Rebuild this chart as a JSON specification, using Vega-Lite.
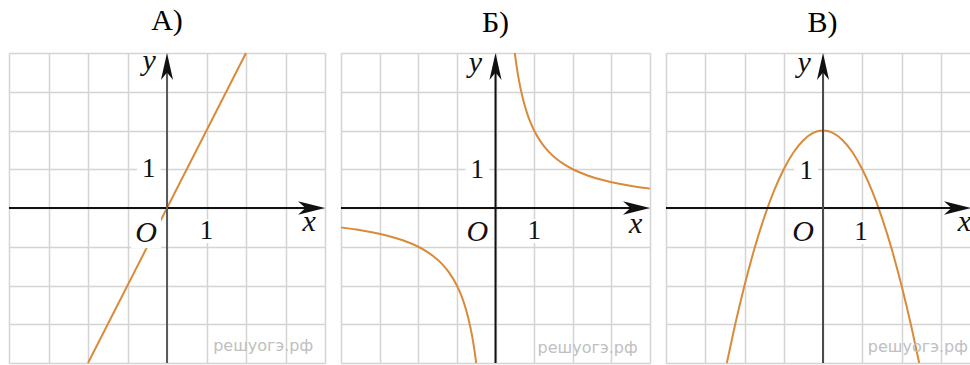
{
  "$schema": "https://vega.github.io/schema/vega-lite/v6.json",
  "background": "white",
  "padding": {"left": 8, "top": 5, "right": 0, "bottom": 0},
  "spacing": 16,
  "bounds": "flush",
  "config": {
    "view": {"stroke": null},
    "title": {"font": "Times New Roman, Liberation Serif, DejaVu Serif, serif", "fontSize": 30, "fontWeight": "normal", "color": "#000000", "offset": 10, "baseline": "alphabetic", "anchor": "middle"},
    "axis": {"grid": true, "gridColor": "#d4d4d4", "gridWidth": 1.5, "labels": false, "ticks": false, "domain": false, "title": null}
  },
  "datasets": {
    "curves": [
      {"panel": "А", "branch": 1, "x": -2, "y": -4},
      {"panel": "А", "branch": 1, "x": 2, "y": 4},
      {"panel": "Б", "branch": 1, "x": 0.5, "y": 4},
      {"panel": "Б", "branch": 1, "x": 0.55, "y": 3.636},
      {"panel": "Б", "branch": 1, "x": 0.6, "y": 3.333},
      {"panel": "Б", "branch": 1, "x": 0.7, "y": 2.857},
      {"panel": "Б", "branch": 1, "x": 0.8, "y": 2.5},
      {"panel": "Б", "branch": 1, "x": 0.9, "y": 2.222},
      {"panel": "Б", "branch": 1, "x": 1, "y": 2},
      {"panel": "Б", "branch": 1, "x": 1.2, "y": 1.667},
      {"panel": "Б", "branch": 1, "x": 1.4, "y": 1.429},
      {"panel": "Б", "branch": 1, "x": 1.6, "y": 1.25},
      {"panel": "Б", "branch": 1, "x": 1.8, "y": 1.111},
      {"panel": "Б", "branch": 1, "x": 2, "y": 1},
      {"panel": "Б", "branch": 1, "x": 2.4, "y": 0.833},
      {"panel": "Б", "branch": 1, "x": 2.8, "y": 0.714},
      {"panel": "Б", "branch": 1, "x": 3.2, "y": 0.625},
      {"panel": "Б", "branch": 1, "x": 3.6, "y": 0.556},
      {"panel": "Б", "branch": 1, "x": 4, "y": 0.5},
      {"panel": "Б", "branch": 2, "x": -4, "y": -0.5},
      {"panel": "Б", "branch": 2, "x": -3.6, "y": -0.556},
      {"panel": "Б", "branch": 2, "x": -3.2, "y": -0.625},
      {"panel": "Б", "branch": 2, "x": -2.8, "y": -0.714},
      {"panel": "Б", "branch": 2, "x": -2.4, "y": -0.833},
      {"panel": "Б", "branch": 2, "x": -2, "y": -1},
      {"panel": "Б", "branch": 2, "x": -1.8, "y": -1.111},
      {"panel": "Б", "branch": 2, "x": -1.6, "y": -1.25},
      {"panel": "Б", "branch": 2, "x": -1.4, "y": -1.429},
      {"panel": "Б", "branch": 2, "x": -1.2, "y": -1.667},
      {"panel": "Б", "branch": 2, "x": -1, "y": -2},
      {"panel": "Б", "branch": 2, "x": -0.9, "y": -2.222},
      {"panel": "Б", "branch": 2, "x": -0.8, "y": -2.5},
      {"panel": "Б", "branch": 2, "x": -0.7, "y": -2.857},
      {"panel": "Б", "branch": 2, "x": -0.6, "y": -3.333},
      {"panel": "Б", "branch": 2, "x": -0.55, "y": -3.636},
      {"panel": "Б", "branch": 2, "x": -0.5, "y": -4},
      {"panel": "В", "branch": 1, "x": -2.45, "y": -4},
      {"panel": "В", "branch": 1, "x": -2.25, "y": -3.06},
      {"panel": "В", "branch": 1, "x": -2, "y": -2},
      {"panel": "В", "branch": 1, "x": -1.75, "y": -1.06},
      {"panel": "В", "branch": 1, "x": -1.5, "y": -0.25},
      {"panel": "В", "branch": 1, "x": -1.25, "y": 0.44},
      {"panel": "В", "branch": 1, "x": -1, "y": 1},
      {"panel": "В", "branch": 1, "x": -0.75, "y": 1.44},
      {"panel": "В", "branch": 1, "x": -0.5, "y": 1.75},
      {"panel": "В", "branch": 1, "x": -0.25, "y": 1.94},
      {"panel": "В", "branch": 1, "x": 0, "y": 2},
      {"panel": "В", "branch": 1, "x": 0.25, "y": 1.94},
      {"panel": "В", "branch": 1, "x": 0.5, "y": 1.75},
      {"panel": "В", "branch": 1, "x": 0.75, "y": 1.44},
      {"panel": "В", "branch": 1, "x": 1, "y": 1},
      {"panel": "В", "branch": 1, "x": 1.25, "y": 0.44},
      {"panel": "В", "branch": 1, "x": 1.5, "y": -0.25},
      {"panel": "В", "branch": 1, "x": 1.75, "y": -1.06},
      {"panel": "В", "branch": 1, "x": 2, "y": -2},
      {"panel": "В", "branch": 1, "x": 2.25, "y": -3.06},
      {"panel": "В", "branch": 1, "x": 2.45, "y": -4}
    ],
    "axes": [
      {"panel": "А", "x": -4, "x2": 3.8, "y": 0, "y2": 0},
      {"panel": "А", "x": 0, "x2": 0, "y": -4, "y2": 3.8},
      {"panel": "Б", "x": -4, "x2": 3.8, "y": 0, "y2": 0},
      {"panel": "Б", "x": 0, "x2": 0, "y": -4, "y2": 3.8},
      {"panel": "В", "x": -4, "x2": 3.6, "y": 0, "y2": 0},
      {"panel": "В", "x": 0, "x2": 0, "y": -4, "y2": 3.8}
    ],
    "arrows": [
      {"panel": "А", "dir": "right", "x": 4, "y": 0},
      {"panel": "А", "dir": "up", "x": 0, "y": 4},
      {"panel": "Б", "dir": "right", "x": 4, "y": 0},
      {"panel": "Б", "dir": "up", "x": 0, "y": 4},
      {"panel": "В", "dir": "right", "x": 3.77, "y": 0},
      {"panel": "В", "dir": "up", "x": 0, "y": 4}
    ],
    "labels": [
      {"panel": "А", "text": "1", "x": 1.0, "y": -0.6},
      {"panel": "А", "text": "1", "x": -0.46, "y": 1.0},
      {"panel": "А", "text": "O", "x": -0.53, "y": -0.65},
      {"panel": "А", "text": "x", "x": 3.6, "y": -0.35},
      {"panel": "А", "text": "y", "x": -0.45, "y": 3.8},
      {"panel": "Б", "text": "1", "x": 1.0, "y": -0.6},
      {"panel": "Б", "text": "1", "x": -0.47, "y": 0.97},
      {"panel": "Б", "text": "O", "x": -0.47, "y": -0.62},
      {"panel": "Б", "text": "x", "x": 3.63, "y": -0.4},
      {"panel": "Б", "text": "y", "x": -0.52, "y": 3.75},
      {"panel": "В", "text": "1", "x": 0.97, "y": -0.62},
      {"panel": "В", "text": "1", "x": -0.43, "y": 0.95},
      {"panel": "В", "text": "O", "x": -0.51, "y": -0.62},
      {"panel": "В", "text": "x", "x": 3.6, "y": -0.36},
      {"panel": "В", "text": "y", "x": -0.48, "y": 3.75}
    ],
    "marks": [
      {"panel": "А", "text": "решуогэ.рф", "x": 3.7, "y": -3.55},
      {"panel": "Б", "text": "решуогэ.рф", "x": 3.68, "y": -3.6},
      {"panel": "В", "text": "решуогэ.рф", "x": 3.69, "y": -3.58}
    ]
  },
  "hconcat": [
    {
      "width": 316, "height": 310,
      "title": {"text": "А)", "dx": 0},
      "encoding": {
        "x": {"field": "x", "type": "quantitative", "scale": {"domain": [-4, 4], "nice": false, "zero": false}, "axis": {"values": [-4, -3, -2, -1, 0, 1, 2, 3, 4]}},
        "y": {"field": "y", "type": "quantitative", "scale": {"domain": [-4, 4], "nice": false, "zero": false}, "axis": {"values": [-4, -3, -2, -1, 0, 1, 2, 3, 4]}}
      },
      "layer": [
        {"data": {"name": "curves"}, "transform": [{"filter": "datum.panel === 'А'"}], "mark": {"type": "line", "color": "#d98b3a", "strokeWidth": 2, "interpolate": "monotone"}, "encoding": {"detail": {"field": "branch"}}},
        {"data": {"name": "labels"}, "transform": [{"filter": "datum.panel === 'А' && (datum.text === '1' || datum.text === 'O')"}], "mark": {"type": "point", "shape": "square", "filled": true, "color": "white", "opacity": 1, "strokeWidth": 0}, "encoding": {"size": {"condition": {"test": "datum.text === 'O'", "value": 900}, "value": 560}}},
        {"data": {"name": "axes"}, "transform": [{"filter": "datum.panel === 'А'"}], "mark": {"type": "rule", "strokeWidth": 2}, "encoding": {"x2": {"field": "x2"}, "y2": {"field": "y2"}, "color": {"condition": {"test": "datum.x === datum.x2", "value": "#5a5a5a"}, "value": "#111111"}}},
        {"data": {"name": "arrows"}, "transform": [{"filter": "datum.panel === 'А'"}], "mark": {"type": "point", "filled": true, "color": "#111111", "opacity": 1, "size": 729}, "encoding": {"shape": {"field": "dir", "type": "nominal", "scale": {"domain": ["right", "up"], "range": ["M0,0L-2,-0.5L-1.45,0L-2,0.5Z", "M0,0L-0.45,2L0,1.45L0.45,2Z"]}, "legend": null}}},
        {"data": {"name": "labels"}, "transform": [{"filter": "datum.panel === 'А' && datum.text === '1'"}], "mark": {"type": "text", "font": "Times New Roman, Liberation Serif, DejaVu Serif, serif", "fontSize": 27, "color": "#111111", "baseline": "middle", "align": "center"}, "encoding": {"text": {"field": "text"}}},
        {"data": {"name": "labels"}, "transform": [{"filter": "datum.panel === 'А' && datum.text !== '1'"}], "mark": {"type": "text", "font": "Times New Roman, Liberation Serif, DejaVu Serif, serif", "fontStyle": "italic", "fontSize": 30, "color": "#111111", "baseline": "middle", "align": "center"}, "encoding": {"text": {"field": "text"}}},
        {"data": {"name": "marks"}, "transform": [{"filter": "datum.panel === 'А'"}], "mark": {"type": "text", "font": "DejaVu Sans", "fontSize": 16, "color": "#c0c0c0", "baseline": "middle", "align": "right"}, "encoding": {"text": {"field": "text"}}}
      ]
    },
    {
      "width": 309, "height": 310,
      "title": {"text": "Б)", "dx": 0},
      "encoding": {
        "x": {"field": "x", "type": "quantitative", "scale": {"domain": [-4, 4], "nice": false, "zero": false}, "axis": {"values": [-4, -3, -2, -1, 0, 1, 2, 3, 4]}},
        "y": {"field": "y", "type": "quantitative", "scale": {"domain": [-4, 4], "nice": false, "zero": false}, "axis": {"values": [-4, -3, -2, -1, 0, 1, 2, 3, 4]}}
      },
      "layer": [
        {"data": {"name": "curves"}, "transform": [{"filter": "datum.panel === 'Б'"}], "mark": {"type": "line", "color": "#d98b3a", "strokeWidth": 2, "interpolate": "monotone"}, "encoding": {"detail": {"field": "branch"}}},
        {"data": {"name": "labels"}, "transform": [{"filter": "datum.panel === 'Б' && (datum.text === '1' || datum.text === 'O')"}], "mark": {"type": "point", "shape": "square", "filled": true, "color": "white", "opacity": 1, "strokeWidth": 0}, "encoding": {"size": {"condition": {"test": "datum.text === 'O'", "value": 700}, "value": 560}}},
        {"data": {"name": "axes"}, "transform": [{"filter": "datum.panel === 'Б'"}], "mark": {"type": "rule", "strokeWidth": 2, "color": "#111111"}, "encoding": {"x2": {"field": "x2"}, "y2": {"field": "y2"}}},
        {"data": {"name": "arrows"}, "transform": [{"filter": "datum.panel === 'Б'"}], "mark": {"type": "point", "filled": true, "color": "#111111", "opacity": 1, "size": 729}, "encoding": {"shape": {"field": "dir", "type": "nominal", "scale": {"domain": ["right", "up"], "range": ["M0,0L-2,-0.5L-1.45,0L-2,0.5Z", "M0,0L-0.45,2L0,1.45L0.45,2Z"]}, "legend": null}}},
        {"data": {"name": "labels"}, "transform": [{"filter": "datum.panel === 'Б' && datum.text === '1'"}], "mark": {"type": "text", "font": "Times New Roman, Liberation Serif, DejaVu Serif, serif", "fontSize": 27, "color": "#111111", "baseline": "middle", "align": "center"}, "encoding": {"text": {"field": "text"}}},
        {"data": {"name": "labels"}, "transform": [{"filter": "datum.panel === 'Б' && datum.text !== '1'"}], "mark": {"type": "text", "font": "Times New Roman, Liberation Serif, DejaVu Serif, serif", "fontStyle": "italic", "fontSize": 30, "color": "#111111", "baseline": "middle", "align": "center"}, "encoding": {"text": {"field": "text"}}},
        {"data": {"name": "marks"}, "transform": [{"filter": "datum.panel === 'Б'"}], "mark": {"type": "text", "font": "DejaVu Sans", "fontSize": 16, "color": "#c0c0c0", "baseline": "middle", "align": "right"}, "encoding": {"text": {"field": "text"}}}
      ]
    },
    {
      "width": 305, "height": 310,
      "title": {"text": "В)", "dx": 4},
      "encoding": {
        "x": {"field": "x", "type": "quantitative", "scale": {"domain": [-4, 3.77], "nice": false, "zero": false}, "axis": {"values": [-4, -3, -2, -1, 0, 1, 2, 3]}},
        "y": {"field": "y", "type": "quantitative", "scale": {"domain": [-4, 4], "nice": false, "zero": false}, "axis": {"values": [-4, -3, -2, -1, 0, 1, 2, 3, 4]}}
      },
      "layer": [
        {"data": {"name": "curves"}, "transform": [{"filter": "datum.panel === 'В'"}], "mark": {"type": "line", "color": "#d98b3a", "strokeWidth": 2, "interpolate": "monotone"}, "encoding": {"detail": {"field": "branch"}}},
        {"data": {"name": "labels"}, "transform": [{"filter": "datum.panel === 'В' && (datum.text === '1' || datum.text === 'O')"}], "mark": {"type": "point", "shape": "square", "filled": true, "color": "white", "opacity": 1, "strokeWidth": 0}, "encoding": {"size": {"condition": {"test": "datum.text === 'O'", "value": 700}, "value": 560}}},
        {"data": {"name": "axes"}, "transform": [{"filter": "datum.panel === 'В'"}], "mark": {"type": "rule", "strokeWidth": 2}, "encoding": {"x2": {"field": "x2"}, "y2": {"field": "y2"}, "color": {"condition": {"test": "datum.x === datum.x2", "value": "#4a4a4a"}, "value": "#111111"}}},
        {"data": {"name": "arrows"}, "transform": [{"filter": "datum.panel === 'В'"}], "mark": {"type": "point", "filled": true, "color": "#111111", "opacity": 1, "size": 729}, "encoding": {"shape": {"field": "dir", "type": "nominal", "scale": {"domain": ["right", "up"], "range": ["M0,0L-2,-0.5L-1.45,0L-2,0.5Z", "M0,0L-0.45,2L0,1.45L0.45,2Z"]}, "legend": null}}},
        {"data": {"name": "labels"}, "transform": [{"filter": "datum.panel === 'В' && datum.text === '1'"}], "mark": {"type": "text", "font": "Times New Roman, Liberation Serif, DejaVu Serif, serif", "fontSize": 27, "color": "#111111", "baseline": "middle", "align": "center"}, "encoding": {"text": {"field": "text"}}},
        {"data": {"name": "labels"}, "transform": [{"filter": "datum.panel === 'В' && datum.text !== '1'"}], "mark": {"type": "text", "font": "Times New Roman, Liberation Serif, DejaVu Serif, serif", "fontStyle": "italic", "fontSize": 30, "color": "#111111", "baseline": "middle", "align": "center"}, "encoding": {"text": {"field": "text"}}},
        {"data": {"name": "marks"}, "transform": [{"filter": "datum.panel === 'В'"}], "mark": {"type": "text", "font": "DejaVu Sans", "fontSize": 16, "color": "#c0c0c0", "baseline": "middle", "align": "right"}, "encoding": {"text": {"field": "text"}}}
      ]
    }
  ]
}
